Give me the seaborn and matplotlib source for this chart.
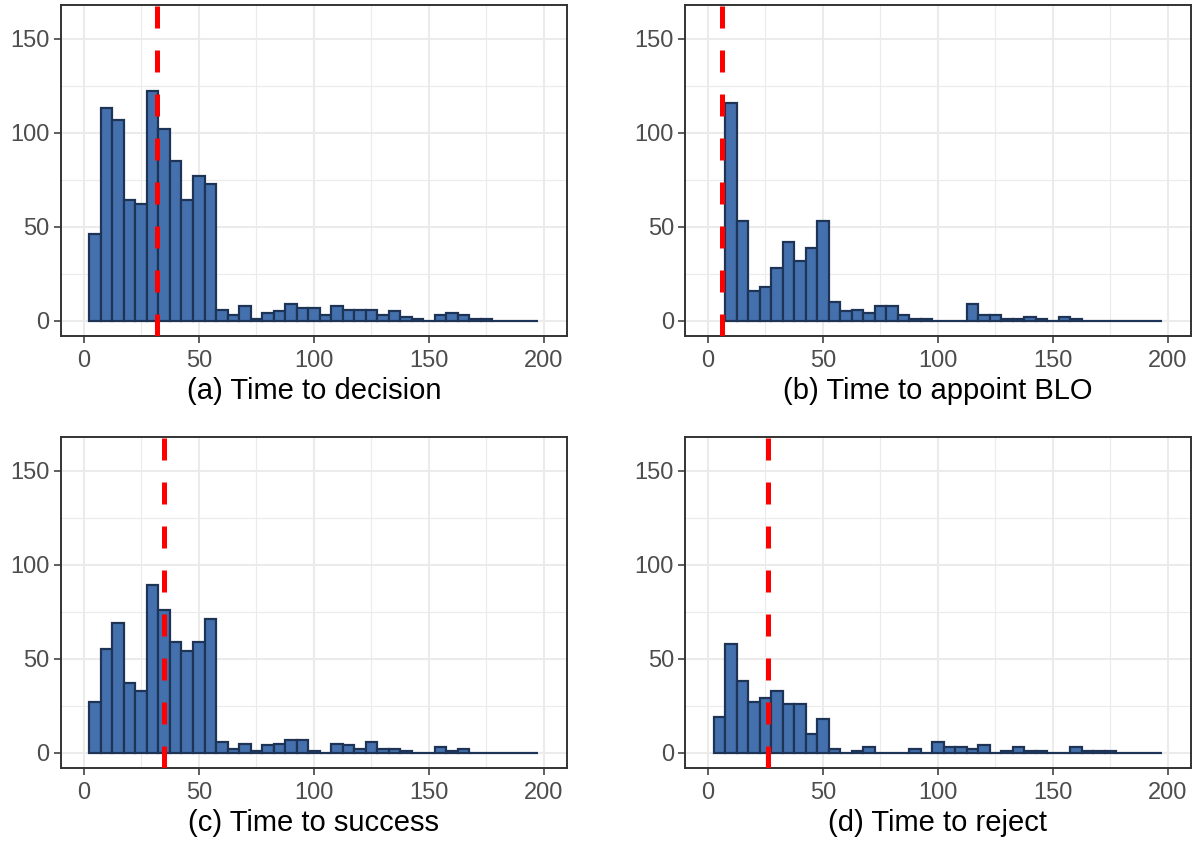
import numpy as np
import pandas as pd
import seaborn as sns
import matplotlib.pyplot as plt
import matplotlib.ticker as ticker

# bin centres (width 5) used by the histograms
centers = list(range(5, 200, 5))

counts_decision = [46, 113, 107, 64, 62, 122, 102, 85, 64, 77, 73, 6, 3, 8, 1, 4, 5, 9, 7, 7,
                   3, 8, 6, 6, 6, 3, 5, 2, 1, 0, 3, 4, 3, 1, 1, 0, 0, 0, 0]
counts_blo = [116, 53, 16, 18, 28, 42, 32, 39, 53, 10, 5, 6, 4, 8, 8, 3, 1, 1, 0, 0,
              0, 9, 3, 3, 1, 1, 2, 1, 0, 2, 1, 0, 0, 0, 0, 0, 0, 0]
counts_success = [27, 55, 69, 37, 33, 89, 76, 59, 54, 59, 71, 6, 2, 5, 1, 4, 5, 7, 7, 1,
                  0, 5, 4, 2, 6, 2, 2, 1, 0, 0, 3, 1, 2, 0, 0, 0, 0, 0, 0]
counts_reject = [19, 58, 38, 27, 29, 33, 26, 26, 10, 18, 2, 0, 1, 3, 0, 0, 0, 2, 0, 6,
                 3, 3, 2, 4, 0, 1, 3, 1, 1, 0, 0, 3, 1, 1, 1, 0, 0, 0, 0]

means = [32, 6, 35, 26]
captions = ["(a) Time to decision", "(b) Time to appoint BLO",
            "(c) Time to success", "(d) Time to reject"]

sns.set_theme(style="white")
plt.rcParams['font.family'] = ['Liberation Sans', 'DejaVu Sans']

fill = "#4471ad"
edge = "#1e3457"

fig = plt.figure(figsize=(11.99, 8.42), dpi=100)
positions = [[0.0506, 0.601, 0.4223, 0.3934],
             [0.5713, 0.601, 0.4218, 0.3934],
             [0.0506, 0.0879, 0.4223, 0.3934],
             [0.5713, 0.0879, 0.4218, 0.3934]]

all_counts = [counts_decision, counts_blo, counts_success, counts_reject]

for pos, counts, m, cap in zip(positions, all_counts, means, captions):
    ax = fig.add_axes(pos)
    xs = centers[len(centers) - len(counts):]
    df = pd.DataFrame({"days": xs, "n": counts})
    edges = [x - 2.5 for x in xs] + [xs[-1] + 2.5]
    sns.histplot(data=df, x="days", weights="n", bins=edges, ax=ax, color=fill,
                 edgecolor=edge, linewidth=1.6, alpha=1)
    ax.axvline(m, color="red", lw=3.6, dashes=(4.4, 4.4), zorder=5)

    ax.set_xlim(-10, 210)
    ax.set_ylim(-8, 168)
    ax.xaxis.set_major_locator(ticker.MultipleLocator(50))
    ax.xaxis.set_minor_locator(ticker.MultipleLocator(25))
    ax.yaxis.set_major_locator(ticker.FixedLocator([0, 50, 100, 150]))
    ax.yaxis.set_minor_locator(ticker.FixedLocator([25, 75, 125]))
    ax.grid(True, which="major", color="#ebebeb", lw=1.5)
    ax.grid(True, which="minor", color="#ebebeb", lw=0.8)
    ax.set_axisbelow(True)
    for s in ax.spines.values():
        s.set_color("#333333")
        s.set_linewidth(1.4)
    ax.tick_params(which="major", direction="out", length=5, width=1.1,
                   color="#333333", labelcolor="#4d4d4d", labelsize=17, pad=3,
                   bottom=True, left=True)
    ax.tick_params(axis="x", which="major", pad=5)
    ax.tick_params(which="minor", length=0)
    ax.set_ylabel("")
    ax.set_xlabel(cap, fontsize=21, color="black", labelpad=4)

plt.savefig("out.png", dpi=100)
